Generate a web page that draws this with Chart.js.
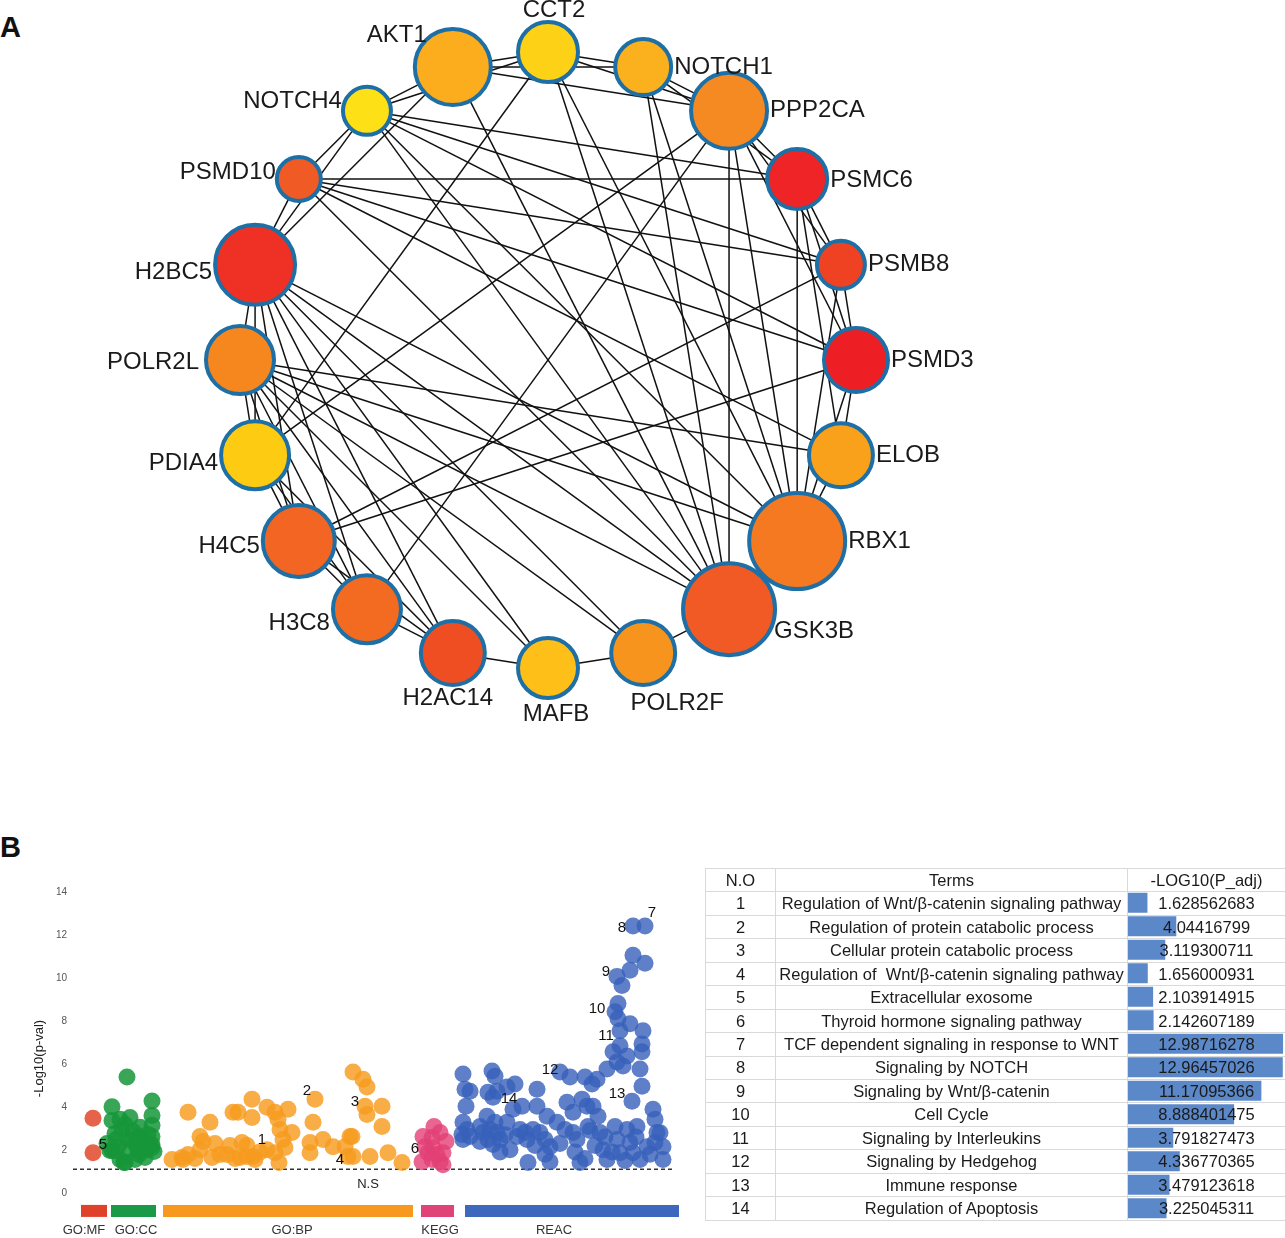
<!DOCTYPE html>
<html>
<head>
<meta charset="utf-8">
<title>Hub gene network and enrichment</title>
<script src="https://cdn.jsdelivr.net/npm/chart.js@4"></script>
<style>
  body { margin: 0; width: 1285px; height: 1238px; position: relative; background: #fff; font-family: 'Liberation Sans', Arial, sans-serif; color: #111; overflow: hidden; }
  .panel { position: absolute; left: 0; font-weight: bold; font-size: 29px; line-height: 1; }
  canvas { position: absolute; }
  #netChart { left: 0; top: 0; }
  #manChart { left: 0; top: 860px; }
  #barChart { left: 1128px; top: 891px; z-index: 0; }
  table { position: absolute; left: 705px; top: 868px; width: 580px; border-collapse: collapse; table-layout: fixed; font-size: 16.5px; color: #1a1a1a; z-index: 1; }
  tr { height: 23.45px; }
  td { border: 1px solid #d9d9d9; padding: 0; text-align: center; line-height: 1; white-space: pre; overflow: hidden; }
</style>
</head>
<body>
<div class="panel" style="top:13px">A</div>
<div class="panel" style="top:833px">B</div>
<canvas id="netChart" width="1285" height="740"></canvas>
<canvas id="manChart" width="700" height="378"></canvas>
<canvas id="barChart" width="157" height="329"></canvas>
<table id="termTable">
  <colgroup><col style="width:70px"><col style="width:352px"><col style="width:158px"></colgroup>
  <tbody></tbody>
</table>

<script>
// ---------- Panel A: hub gene network (genes laid out clockwise from the top) ----------
const genes = ['CCT2', 'NOTCH1', 'PPP2CA', 'PSMC6', 'PSMB8', 'PSMD3', 'ELOB', 'RBX1', 'GSK3B', 'POLR2F',
               'MAFB', 'H2AC14', 'H3C8', 'H4C5', 'PDIA4', 'POLR2L', 'H2BC5', 'PSMD10', 'NOTCH4', 'AKT1'];
const geneDegree = [10, 9, 14, 10, 7, 11, 11, 19, 18, 11, 10, 11, 12, 13, 12, 12, 15, 6, 7, 14];
const edges = [
  ['AKT1','CCT2'], ['AKT1','NOTCH1'], ['AKT1','PPP2CA'], ['AKT1','NOTCH4'], ['AKT1','H2BC5'], ['AKT1','GSK3B'],
  ['CCT2','NOTCH1'], ['CCT2','PPP2CA'], ['CCT2','NOTCH4'], ['CCT2','PDIA4'], ['CCT2','GSK3B'], ['CCT2','RBX1'],
  ['NOTCH1','PPP2CA'], ['NOTCH1','PSMC6'], ['NOTCH1','RBX1'], ['NOTCH1','GSK3B'],
  ['NOTCH4','PSMD10'], ['NOTCH4','H2BC5'], ['NOTCH4','PSMC6'], ['NOTCH4','PSMB8'], ['NOTCH4','PSMD3'], ['NOTCH4','RBX1'], ['NOTCH4','GSK3B'],
  ['PPP2CA','PSMC6'], ['PPP2CA','PSMB8'], ['PPP2CA','PSMD3'], ['PPP2CA','RBX1'], ['PPP2CA','GSK3B'], ['PPP2CA','PDIA4'], ['PPP2CA','H3C8'],
  ['PSMD10','H2BC5'], ['PSMD10','PSMC6'], ['PSMD10','PSMB8'], ['PSMD10','PSMD3'], ['PSMD10','ELOB'], ['PSMD10','GSK3B'],
  ['PSMC6','PSMB8'], ['PSMC6','PSMD3'], ['PSMC6','ELOB'], ['PSMC6','RBX1'],
  ['PSMB8','PSMD3'], ['PSMB8','H4C5'], ['PSMB8','RBX1'],
  ['PSMD3','ELOB'], ['PSMD3','RBX1'], ['PSMD3','H4C5'],
  ['ELOB','RBX1'], ['ELOB','POLR2L'], ['RBX1','GSK3B'], ['RBX1','POLR2L'], ['RBX1','H2BC5'],
  ['GSK3B','POLR2F'], ['GSK3B','POLR2L'], ['GSK3B','H2BC5'],
  ['POLR2F','MAFB'], ['POLR2F','POLR2L'], ['POLR2F','H2BC5'],
  ['MAFB','H2AC14'], ['MAFB','H2BC5'], ['MAFB','POLR2L'],
  ['H2AC14','H3C8'], ['H2AC14','H4C5'], ['H2AC14','PDIA4'], ['H2AC14','H2BC5'], ['H2AC14','POLR2L'],
  ['H3C8','H4C5'], ['H3C8','PDIA4'], ['H3C8','H2BC5'], ['H3C8','POLR2L'],
  ['H4C5','PDIA4'], ['H4C5','H2BC5'], ['H4C5','POLR2L'],
  ['PDIA4','POLR2L'], ['PDIA4','H2BC5'], ['H2BC5','POLR2L']
];

// node colours (score gradient yellow -> red), kept apart from the data
const geneColors = ['#fdd216', '#fbb01e', '#f68a22', '#ee2426', '#ee4223', '#ed1f24', '#f9a11b', '#f47920', '#f15a24', '#f7941d',
                    '#fdbf18', '#ef4e23', '#f26b21', '#f26522', '#fdcb12', '#f6871f', '#ee3124', '#f05a24', '#fde016', '#fbad1e'];
// where each gene name sits relative to its node: [side, dx, dy]
const labelPlace = [['top',6,0], ['right',0,0], ['right',0,0], ['right',0,1], ['right',0,0], ['right',0,0], ['right',0,0],
                    ['right',0,0], ['right',-4,22], ['bottom',34,4], ['bottom',8,2], ['bottom',-5,-1], ['left',0,14],
                    ['left',0,5], ['left',0,8], ['left',-4,2], ['left',0,8], ['left',2,-7], ['left',2,-9], ['left',15,-32]];

const ringX = 548, ringY = 360, ringR = 308;
const nodes = genes.map((g, i) => {
  const a = (90 - 360 / genes.length * i) * Math.PI / 180;
  return { x: ringX + ringR * Math.cos(a), y: ringY - ringR * Math.sin(a), r: 10 + 2 * geneDegree[i] };
});
const nodeOf = name => nodes[genes.indexOf(name)];

const edgeSets = edges.map(([a, b]) => ({
  type: 'line',
  data: [{ x: nodeOf(a).x, y: nodeOf(a).y }, { x: nodeOf(b).x, y: nodeOf(b).y }],
  borderColor: '#111', borderWidth: 1.5, pointRadius: 0, order: 2, clip: false
}));

const geneLabels = {
  id: 'geneLabels',
  afterDatasetsDraw(chart) {
    const ctx = chart.ctx;
    const meta = chart.getDatasetMeta(chart.data.datasets.length - 1);
    ctx.save();
    ctx.font = '24px "Liberation Sans", Arial, sans-serif';
    ctx.fillStyle = '#1a1a1a';
    ctx.textBaseline = 'middle';
    meta.data.forEach((el, i) => {
      const r = nodes[i].r;
      const [side, dx, dy] = labelPlace[i];
      let x = el.x, y = el.y;
      if (side === 'top') { ctx.textAlign = 'center'; x += dx; y = y - r - 12 + dy; }
      else if (side === 'bottom') { ctx.textAlign = 'center'; x += dx; y = y + r + 14 + dy; }
      else if (side === 'right') { ctx.textAlign = 'left'; x = x + r + 3 + dx; y += dy; }
      else { ctx.textAlign = 'right'; x = x - r - 3 + dx; y += dy; }
      ctx.fillText(genes[i], x, y);
    });
    ctx.restore();
  }
};

new Chart(document.getElementById('netChart'), {
  type: 'bubble',
  data: {
    datasets: [...edgeSets, {
      type: 'bubble',
      data: nodes.map(n => ({ x: n.x, y: n.y, r: n.r })),
      backgroundColor: geneColors,
      borderColor: '#1d6fa5',
      borderWidth: 4,
      order: 1,
      clip: false
    }]
  },
  options: {
    responsive: false, animation: false, events: [],
    layout: { padding: 0, autoPadding: false },
    plugins: { legend: { display: false }, tooltip: { enabled: false } },
    scales: {
      x: { type: 'linear', min: 0, max: 1285, display: false },
      y: { type: 'linear', min: 0, max: 740, reverse: true, display: false }
    }
  },
  plugins: [geneLabels]
});

// ---------- Panel B left: Manhattan plot of enriched terms ----------
const sources = ['GO:MF', 'GO:CC', 'GO:BP', 'KEGG', 'REAC'];
const sourceStart = [8, 38, 90, 348, 392];
const sourceEnd = [34, 83, 340, 381, 606];
const sourceLabelX = [11, 63, 219, 367, 481];
const yTicks = [0, 2, 4, 6, 8, 10, 12, 14];
const threshold = 1.1;

const mfX = [20, 20];
const mfY = [3.47, 1.87];
const ccX = [39, 39, 42, 45, 39, 47, 51, 52, 55, 57, 60, 63, 66, 67, 70, 73, 75, 79, 79, 79, 79, 81, 47, 49, 62, 72, 43, 57, 65, 54,
             37, 42, 59, 65, 79, 79, 52, 34];
const ccY = [4.0, 3.37, 2.76, 2.15, 1.97, 1.55, 1.41, 3.18, 2.48, 2.01, 2.86, 2.25, 1.78, 3.05, 2.48, 2.01, 2.72, 4.27, 3.6, 3.14, 2.25, 1.92, 3.42, 2.95, 1.55, 1.64, 2.48, 3.51, 2.62, 5.39,
             1.97, 1.97, 2.48, 2.01, 2.1, 2.62, 1.41, 2.3];
const bpX = [99, 109, 115, 115, 127, 130, 137, 139, 127, 147, 154, 160, 165, 169, 174, 179, 179, 174, 180, 182, 167, 194, 194, 202, 205,
             207, 210, 212, 215, 219, 206, 202, 237, 237, 240, 242, 250, 260, 277, 275, 280, 290, 294, 292, 294, 309, 309, 279, 280, 297,
             315, 329, 272, 157, 162, 187, 142, 122, 110];
const bpY = [1.55, 1.64, 1.78, 3.75, 2.62, 2.39, 3.28, 1.64, 2.01, 1.78, 1.78, 3.75, 3.75, 2.34, 2.2, 3.51, 4.36, 1.69, 1.69, 1.55, 1.64, 2.01, 3.98, 3.75, 3.42,
             2.95, 2.48, 2.11, 3.89, 2.81, 1.41, 1.87, 1.87, 2.34, 3.28, 4.36, 2.48, 2.15, 2.62, 1.69, 5.62, 5.29, 4.92, 4.03, 3.65, 4.03, 3.09, 2.62, 1.69, 1.69,
             1.87, 1.41, 2.15, 2.2, 1.6, 1.9, 2.3, 1.6, 1.55];
const keggX = [361, 350, 359, 367, 373, 352, 360, 370, 349, 359, 367, 370, 355, 364];
const keggY = [3.09, 2.62, 2.58, 2.81, 2.39, 2.15, 2.1, 1.87, 1.45, 1.55, 1.45, 1.31, 1.87, 1.78];
const reacX = [390, 392, 397, 393, 390, 394, 389, 397, 390, 407, 410, 407, 419, 422, 415, 420, 424, 434, 442, 414, 422, 417, 424, 427, 415,
               420, 437, 434, 440, 449, 447, 444, 452, 454, 460, 464, 464, 467, 472, 455, 474, 477, 477, 484, 487, 492, 494, 497, 500, 500,
               504, 507, 509, 512, 514, 515, 519, 520, 524, 525, 527, 534, 530, 534, 540, 544, 550, 554, 559, 542, 544, 547, 554, 557, 564,
               567, 569, 569, 570, 569, 560, 567, 574, 580, 582, 584, 582, 590, 590,
               560, 572, 560, 572, 557, 544, 549, 545, 542, 545, 557, 547, 547,
               512, 522, 532, 539, 552, 563, 577, 587, 517, 502, 487, 472, 462, 432, 427];
const reacY = [5.53, 4.82, 4.73, 4.03, 3.28, 2.95, 2.72, 2.62, 2.48, 3.09, 2.81, 2.39, 5.67, 5.43, 4.68, 4.45, 4.73, 4.92, 5.06, 3.56, 3.28, 2.95, 2.81, 2.48, 2.48,
               2.25, 2.01, 3.28, 3.89, 4.03, 2.95, 2.62, 2.81, 2.48, 2.95, 4.82, 4.03, 2.81, 2.48, 1.41, 3.56, 2.15, 1.45, 3.28, 5.62, 2.95, 4.22, 5.39, 3.75, 2.81,
               2.48, 1.41, 4.36, 5.39, 4.03, 3.09, 5.06, 4.03, 5.29, 3.56, 2.81, 5.76, 2.01, 1.55, 6.56, 6.09, 5.9, 6.37, 4.26, 3.09, 2.48, 1.87, 2.95, 2.34, 3.09,
               5.76, 6.56, 6.93, 7.54, 4.96, 1.87, 1.55, 2.15, 3.89, 3.42, 2.81, 2.34, 2.15, 1.55,
               12.41, 12.41, 11.05, 10.68, 10.35, 10.07, 9.65, 8.81, 8.43, 8.1, 7.87, 7.54, 6.84,
               1.6, 2.2, 2.6, 1.9, 1.5, 2.6, 1.8, 2.8, 2.9, 1.9, 2.3, 1.8, 2.2, 2.7, 1.9];
const termLabelX = [189, 234, 282, 267, 30, 342, 579, 549, 533, 524, 533, 477, 544, 436];
const termLabelY = [2.48, 4.73, 4.22, 1.55, 2.25, 2.06, 13.02, 12.32, 10.3, 8.57, 7.31, 5.71, 4.59, 4.36];

const sourceColors = ['#e0412a', '#1a9a46', '#f7991f', '#e04377', '#3d68bd'];
const pointColors = ['rgba(226,72,44,0.85)', 'rgba(22,150,58,0.85)', 'rgba(247,155,30,0.82)', 'rgba(226,64,118,0.8)', 'rgba(55,96,186,0.8)'];
const pointSets = [[mfX, mfY], [ccX, ccY], [bpX, bpY], [keggX, keggY], [reacX, reacY]];

const manDatasets = pointSets.map(([xs, ys], i) => ({
  label: sources[i],
  data: xs.map((x, k) => ({ x, y: ys[k] })),
  backgroundColor: pointColors[i],
  borderWidth: 0,
  pointRadius: 8.5,
  order: 1
}));
// source bars under the axis
sources.forEach((s, i) => manDatasets.push({
  type: 'line',
  data: [{ x: sourceStart[i], y: -0.84 }, { x: sourceEnd[i], y: -0.84 }],
  borderColor: sourceColors[i], borderWidth: 12, borderCapStyle: 'butt', pointRadius: 0, order: 2, clip: false
}));
// significance threshold
manDatasets.push({
  type: 'line',
  data: [{ x: 0, y: threshold }, { x: 602, y: threshold }],
  borderColor: '#333', borderWidth: 1.5, borderDash: [4, 3], pointRadius: 0, order: 3
});

const manText = {
  id: 'manText',
  afterDatasetsDraw(chart) {
    const { ctx, scales: { x, y } } = chart;
    ctx.save();
    ctx.textBaseline = 'middle';
    ctx.textAlign = 'center';
    ctx.fillStyle = '#111';
    ctx.font = '15px "Liberation Sans", Arial, sans-serif';
    termLabelX.forEach((tx, i) => ctx.fillText(String(i + 1), x.getPixelForValue(tx), y.getPixelForValue(termLabelY[i])));
    ctx.font = '13px "Liberation Sans", Arial, sans-serif';
    ctx.fillStyle = '#222';
    ctx.fillText('N.S', x.getPixelForValue(295), y.getPixelForValue(0.38));
    ctx.fillStyle = '#333';
    sources.forEach((s, i) => ctx.fillText(s, x.getPixelForValue(sourceLabelX[i]), y.getPixelForValue(-1.73)));
    ctx.restore();
  }
};

new Chart(document.getElementById('manChart'), {
  type: 'scatter',
  data: { datasets: manDatasets },
  options: {
    responsive: false, animation: false, events: [],
    layout: { padding: { top: 19, right: 21, bottom: 0, left: 0 }, autoPadding: false },
    plugins: { legend: { display: false }, tooltip: { enabled: false } },
    scales: {
      x: { type: 'linear', min: 0, max: 606, display: false },
      y: {
        min: -2.1, max: 14.6,
        afterBuildTicks: s => { s.ticks = yTicks.map(v => ({ value: v })); },
        // fixed axis width, and no extra room for half tick labels
        afterFit: s => { s.width = 73; s.paddingTop = 0; s.paddingBottom = 0; },
        grid: { display: false, drawTicks: false },
        border: { display: false },
        ticks: { color: '#555', padding: 6, font: { size: 10, family: '"Liberation Sans", Arial, sans-serif' } },
        title: { display: true, text: '-Log10(p-val)', color: '#222', padding: { top: 32, bottom: 0 },
                 font: { size: 13, family: '"Liberation Sans", Arial, sans-serif' } }
      }
    }
  },
  plugins: [manText]
});

// ---------- Panel B right: highlighted terms table with in-cell bars ----------
const termNames = ['Regulation of Wnt/β-catenin signaling pathway', 'Regulation of protein catabolic process',
  'Cellular protein catabolic process', 'Regulation of  Wnt/β-catenin signaling pathway', 'Extracellular exosome',
  'Thyroid hormone signaling pathway', 'TCF dependent signaling in response to WNT', 'Signaling by NOTCH',
  'Signaling by Wnt/β-catenin', 'Cell Cycle', 'Signaling by Interleukins', 'Signaling by Hedgehog',
  'Immune response', 'Regulation of Apoptosis'];
const termValues = [1.628562683, 4.04416799, 3.119300711, 1.656000931, 2.103914915, 2.142607189, 12.98716278,
  12.96457026, 11.17095366, 8.888401475, 3.791827473, 4.336770365, 3.479123618, 3.225045311];

const tbody = document.querySelector('#termTable tbody');
tbody.innerHTML = '<tr><td>N.O</td><td>Terms</td><td>-LOG10(P_adj)</td></tr>' +
  termNames.map((t, i) => `<tr><td>${i + 1}</td><td>${t}</td><td>${termValues[i]}</td></tr>`).join('');

new Chart(document.getElementById('barChart'), {
  type: 'bar',
  data: {
    labels: termNames.map((t, i) => String(i + 1)),
    datasets: [{ data: termValues, backgroundColor: '#5b88c8', barPercentage: 0.85, categoryPercentage: 1 }]
  },
  options: {
    indexAxis: 'y', responsive: false, animation: false, events: [],
    layout: { padding: 0, autoPadding: false },
    plugins: { legend: { display: false }, tooltip: { enabled: false } },
    scales: {
      x: { min: 0, max: 13.15, display: false },
      y: { display: false }
    }
  }
});
</script>
</body>
</html>
